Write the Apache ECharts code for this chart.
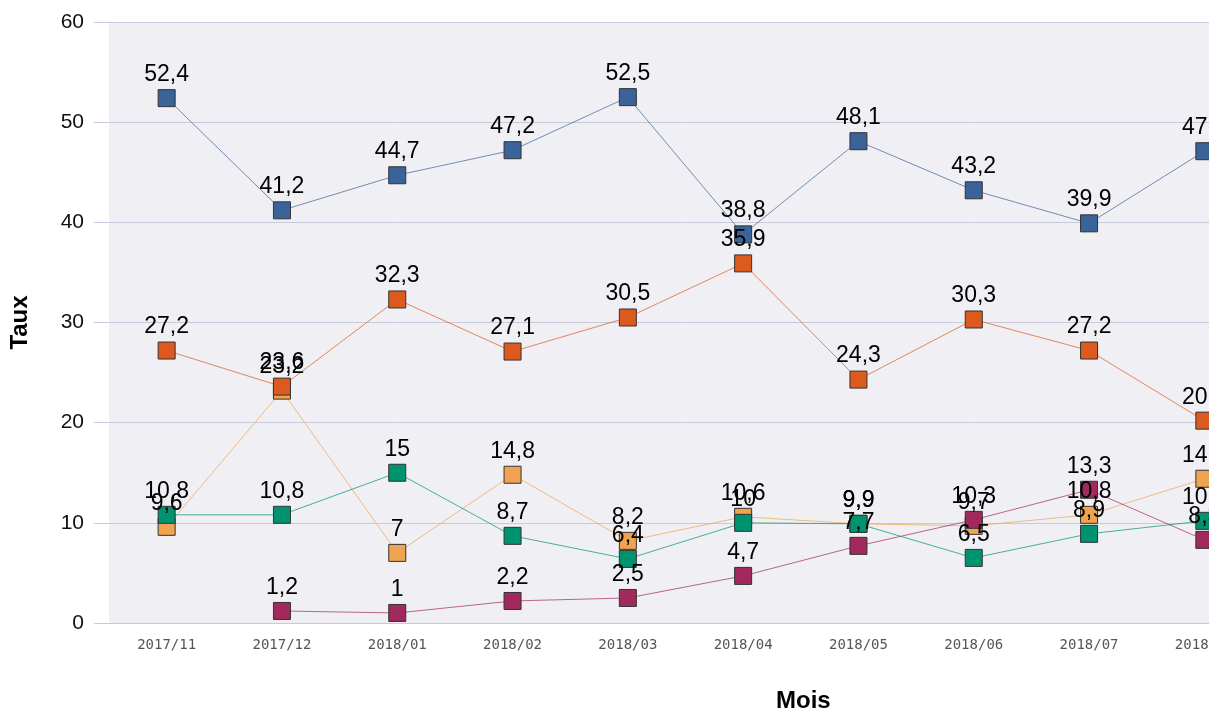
<!DOCTYPE html>
<html>
<head>
<meta charset="utf-8">
<script src="https://cdn.jsdelivr.net/npm/echarts@6/dist/echarts.min.js"></script>
<style>
  body { margin: 0; background: #fff; }
  #wrap { width: 1209px; height: 716px; overflow: hidden; }
  #chart { width: 1300px; height: 716px; }
</style>
</head>
<body>
<div id="wrap"><div id="chart"></div></div>
<script>
// mois
const months = ['2017/11', '2017/12', '2018/01', '2018/02', '2018/03', '2018/04', '2018/05', '2018/06', '2018/07', '2018/08']
// taux par série
const serieBleu = [52.4, 41.2, 44.7, 47.2, 52.5, 38.8, 48.1, 43.2, 39.9, 47.1]
const serieRouge = [27.2, 23.6, 32.3, 27.1, 30.5, 35.9, 24.3, 30.3, 27.2, 20.2]
const serieOrange = [9.6, 23.2, 7, 14.8, 8.2, 10.6, 9.9, 9.7, 10.8, 14.4]
const serieVert = [10.8, 10.8, 15, 8.7, 6.4, 10, 9.9, 6.5, 8.9, 10.2]
const serieViolet = [null, 1.2, 1, 2.2, 2.5, 4.7, 7.7, 10.3, 13.3, 8.3]
const yTicks = [0, 10, 20, 30, 40, 50, 60]

const gridColor = '#c9c9dc'

//série commune
const makeSerie = (name, data, color) => {
  return {
    name: name,
    type: 'line',
    data: data,
    symbol: 'rect',
    symbolSize: 17,
    connectNulls: false,
    itemStyle: {
      color: color,
      borderColor: '#333',
      borderWidth: 1
    },
    lineStyle: {
      color: color,
      width: 1,
      opacity: 0.7
    },
    label: {
      show: true,
      position: 'top',
      distance: 3,
      color: '#000',
      fontSize: 23,
      fontFamily: 'Liberation Sans',
      formatter: (p) => String(p.value).replace('.', ',')
    },
    emphasis: { disabled: true },
    animation: false
  }
}

const chart = echarts.init(document.getElementById('chart'))
const option = {
  animation: false,
  title: {
    text: 'Mois',
    left: 771,
    top: 684,
    textStyle: {
      color: '#000',
      fontWeight: 'bold',
      fontSize: 24,
      fontFamily: 'Liberation Sans'
    }
  },
  grid: {
    left: 107,
    right: 38,
    top: 22,
    bottom: 93,
    show: true,
    backgroundColor: '#efeff4',
    borderWidth: 0
  },
  xAxis: {
    type: 'category',
    data: months,
    boundaryGap: true,
    axisLine: { lineStyle: { color: gridColor, width: 1 } },
    axisTick: { show: false },
    axisLabel: {
      color: '#555',
      fontSize: 14,
      fontFamily: 'DejaVu Sans Mono',
      margin: 15
    }
  },
  yAxis: {
    type: 'value',
    min: yTicks[0],
    max: yTicks[yTicks.length - 1],
    interval: 10,
    name: 'Taux',
    nameLocation: 'middle',
    nameGap: 77,
    nameRotate: 90,
    nameTextStyle: {
      color: '#000',
      fontWeight: 'bold',
      fontSize: 24,
      fontFamily: 'Liberation Sans'
    },
    axisLine: { show: false },
    axisTick: {
      show: true,
      length: 15,
      lineStyle: { color: gridColor }
    },
    axisLabel: {
      color: '#111',
      fontSize: 21,
      fontFamily: 'Liberation Sans',
      margin: 25
    },
    splitLine: { lineStyle: { color: gridColor, width: 1 } }
  },
  series: [
    makeSerie('orange', serieOrange, '#f0a452'),
    makeSerie('rouge', serieRouge, '#dd5a1e'),
    makeSerie('violet', serieViolet, '#a2295e'),
    makeSerie('vert', serieVert, '#00936f'),
    makeSerie('bleu', serieBleu, '#3a6399')
  ]
}
chart.setOption(option)
</script>
</body>
</html>
